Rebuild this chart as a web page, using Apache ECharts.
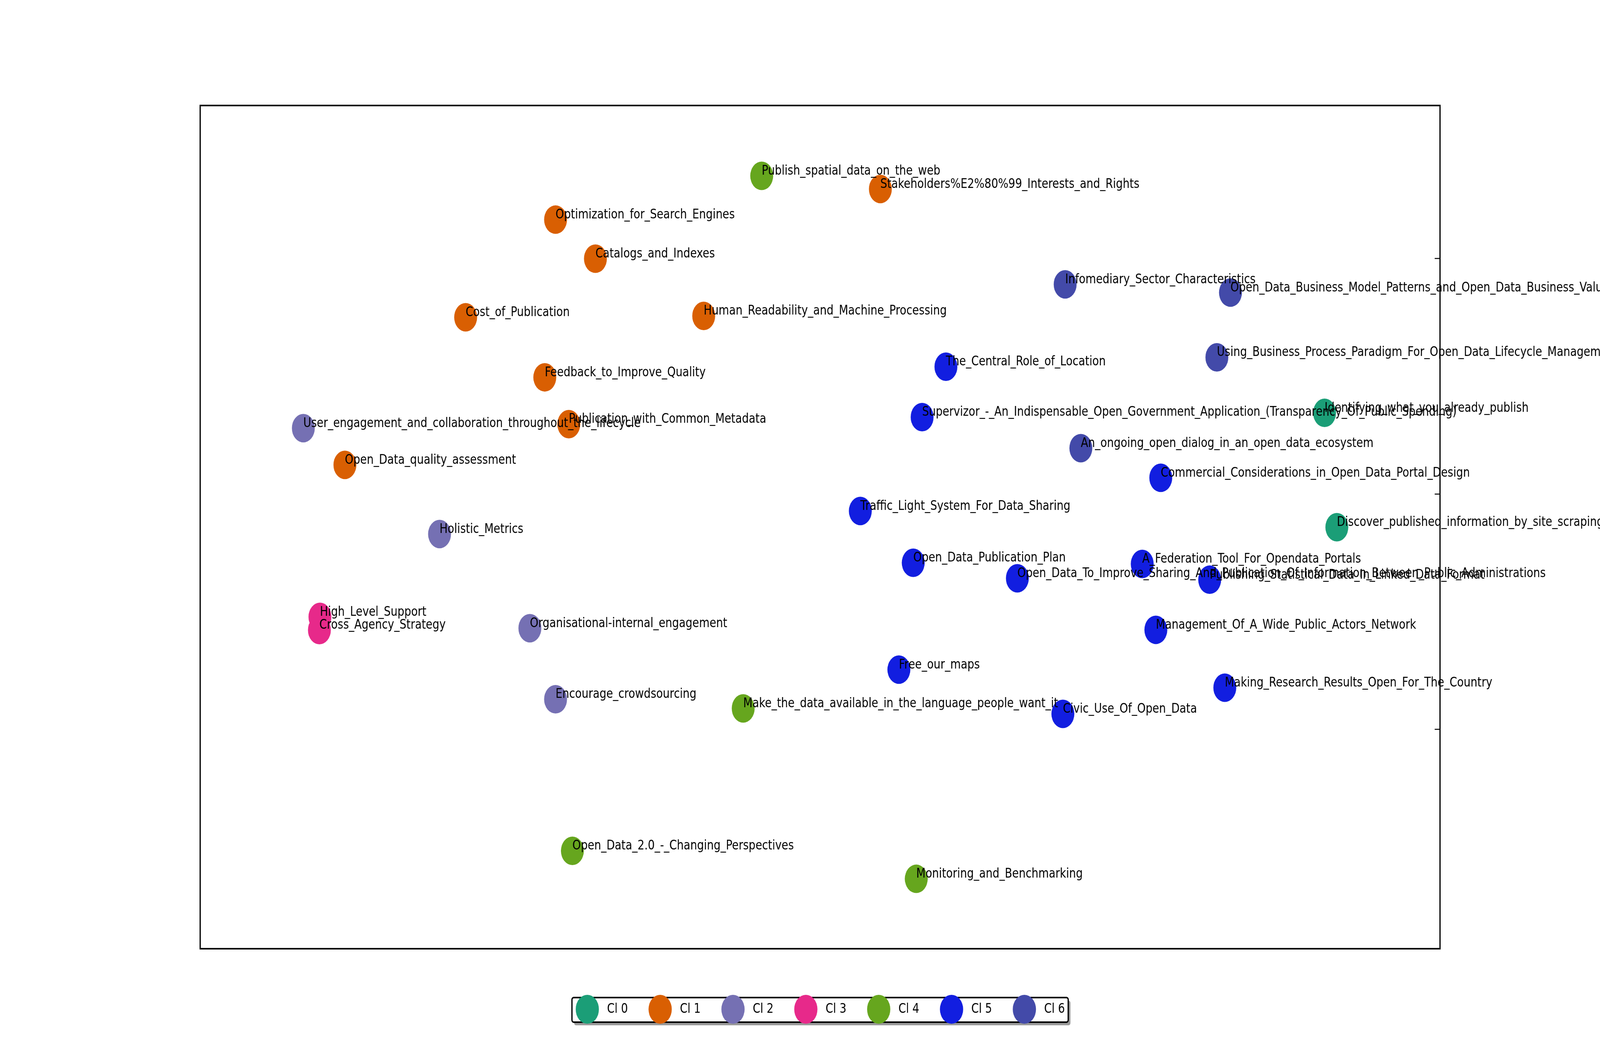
<!DOCTYPE html>
<html>
<head>
<meta charset="utf-8">
<script src="https://cdn.jsdelivr.net/npm/echarts@6/dist/echarts.min.js"></script>
<style>
html,body{margin:0;padding:0;background:#fff;overflow:hidden;}
#chart{width:5100px;height:2700px;transform-origin:0 0;}
</style>
</head>
<body>
<div id="chart"></div>
<script>
const clusterNames = ['Cl 0', 'Cl 1', 'Cl 2', 'Cl 3', 'Cl 4', 'Cl 5', 'Cl 6'];
const clusterColors = ['#1b9e77', '#d95f02', '#7570b3', '#e7298a', '#66a61e', '#121ee0', '#434aa9'];

const cl0 = [
  [2.670, 0.344, 'Identifying_what_you_already_publish'],
  [2.735, -0.142, 'Discover_published_information_by_site_scraping']
];
const cl1 = [
  [-1.400, 1.165, 'Optimization_for_Search_Engines'],
  [-1.189, 0.999, 'Catalogs_and_Indexes'],
  [-1.876, 0.750, 'Cost_of_Publication'],
  [-0.616, 0.756, 'Human_Readability_and_Machine_Processing'],
  [-1.457, 0.495, 'Feedback_to_Improve_Quality'],
  [-1.330, 0.296, 'Publication_with_Common_Metadata'],
  [-2.515, 0.123, 'Open_Data_quality_assessment'],
  [0.319, 1.295, 'Stakeholders%E2%80%99_Interests_and_Rights']
];
const cl2 = [
  [-2.735, 0.279, 'User_engagement_and_collaboration_throughout_the_lifecycle'],
  [-2.014, -0.171, 'Holistic_Metrics'],
  [-1.536, -0.571, 'Organisational-internal_engagement'],
  [-1.400, -0.873, 'Encourage_crowdsourcing']
];
const cl3 = [
  [-2.647, -0.523, 'High_Level_Support'],
  [-2.650, -0.579, 'Cross_Agency_Strategy']
];
const cl4 = [
  [-0.309, 1.351, 'Publish_spatial_data_on_the_web'],
  [-0.407, -0.912, 'Make_the_data_available_in_the_language_people_want_it'],
  [-1.311, -1.517, 'Open_Data_2.0_-_Changing_Perspectives'],
  [0.509, -1.636, 'Monitoring_and_Benchmarking']
];
const cl5 = [
  [0.666, 0.540, 'The_Central_Role_of_Location'],
  [0.540, 0.326, 'Supervizor_-_An_Indispensable_Open_Government_Application_(Transparency_Of_Public_Spending)'],
  [1.803, 0.068, 'Commercial_Considerations_in_Open_Data_Portal_Design'],
  [0.213, -0.073, 'Traffic_Light_System_For_Data_Sharing'],
  [0.493, -0.293, 'Open_Data_Publication_Plan'],
  [1.705, -0.298, 'A_Federation_Tool_For_Opendata_Portals'],
  [1.044, -0.359, 'Open_Data_To_Improve_Sharing_And_Publication_Of_Information_Between_Public_Administrations'],
  [2.062, -0.365, 'Publishing_Statistical_Data_In_Linked_Data_Format'],
  [1.777, -0.578, 'Management_Of_A_Wide_Public_Actors_Network'],
  [0.417, -0.747, 'Free_our_maps'],
  [2.142, -0.824, 'Making_Research_Results_Open_For_The_Country'],
  [1.285, -0.935, 'Civic_Use_Of_Open_Data']
];
const cl6 = [
  [1.297, 0.890, 'Infomediary_Sector_Characteristics'],
  [2.172, 0.855, 'Open_Data_Business_Model_Patterns_and_Open_Data_Business_Value'],
  [2.100, 0.580, 'Using_Business_Process_Paradigm_For_Open_Data_Lifecycle_Management'],
  [1.380, 0.194, 'An_ongoing_open_dialog_in_an_open_data_ecosystem']
];
const yTicks = [-1, 0, 1];

const clusters = [cl0, cl1, cl2, cl3, cl4, cl5, cl6];
const FONT = 'DejaVu Sans';
const FS = 34.3;
const SYM = 73;

// fit the 5100x2700 design into whatever viewport the browser actually has
const el = document.getElementById('chart');
const sx = (window.innerWidth || 5100) / 5100;
const sy = (window.innerHeight || 2700) / 2700;
if (Math.abs(sx - 1) > 0.001 || Math.abs(sy - 1) > 0.001) {
  el.style.transform = 'scale(' + sx + ',' + sy + ')';
}

const series = clusters.map((pts, i) => ({
  name: clusterNames[i],
  type: 'scatter',
  symbol: 'circle',
  symbolSize: SYM,
  itemStyle: { color: clusterColors[i], opacity: 1 },
  data: pts.map(p => ({ value: [p[0], p[1]], name: p[2] })),
  label: {
    show: true,
    formatter: '{b}',
    position: [SYM / 2, SYM / 2 - 12],
    align: 'left',
    verticalAlign: 'middle',
    color: '#000',
    fontFamily: FONT,
    fontSize: FS
  },
  labelLayout: { hideOverlap: false },
  emphasis: { disabled: true },
  clip: false
}));

const chart = echarts.init(el, null, { renderer: 'canvas', width: 5100, height: 2700 });
chart.setOption({
  backgroundColor: '#fff',
  animation: false,
  textStyle: { fontFamily: FONT },
  grid: {
    left: 638, top: 270, width: 3952, height: 2158,
    show: true, borderColor: '#000', borderWidth: 4, backgroundColor: 'transparent'
  },
  xAxis: {
    type: 'value', min: -3.281, max: 3.281,
    axisLine: { show: false }, axisTick: { show: false },
    axisLabel: { show: false }, splitLine: { show: false }
  },
  yAxis: {
    type: 'value', min: -1.933, max: 1.650, position: 'right',
    axisLine: { show: false, onZero: false },
    axisTick: { show: true, inside: true, length: 17, customValues: yTicks, lineStyle: { color: '#000', width: 2.5 } },
    axisLabel: { show: false, customValues: yTicks },
    splitLine: { show: false }
  },
  legend: {
    data: clusterNames,
    left: 1835, top: 2546,
    orient: 'horizontal',
    padding: 0,
    icon: 'circle',
    itemWidth: 74, itemHeight: 74,
    itemGap: 66,
    textStyle: { fontFamily: FONT, fontSize: FS, color: '#000', padding: [0, 0, 0, 21] },
    selectedMode: false
  },
  graphic: [
    { type: 'rect', z: -2, shape: { x: 1830, y: 2561, width: 1582, height: 63, r: 6 }, style: { fill: '#9a9a9a' }, silent: true },
    { type: 'rect', z: -1, shape: { x: 1823, y: 2553, width: 1582, height: 63, r: 6 }, style: { fill: '#fff', stroke: '#000', lineWidth: 4 }, silent: true }
  ],
  series: series
});
</script>
</body>
</html>
